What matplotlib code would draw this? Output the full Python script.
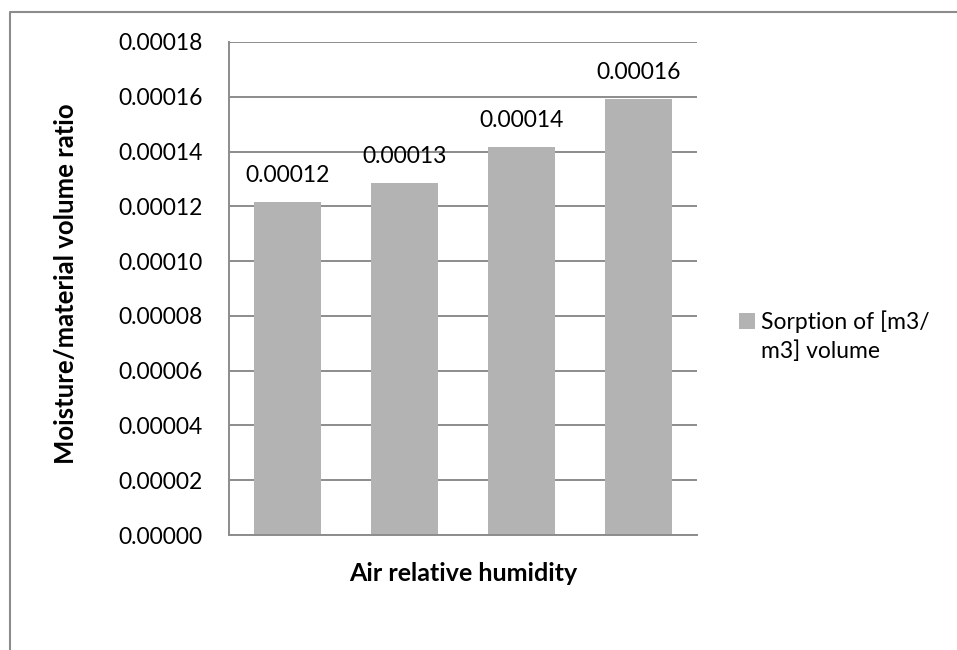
import matplotlib
matplotlib.use("Agg")
import matplotlib.pyplot as plt
from matplotlib.patches import Patch
from matplotlib.lines import Line2D

# sorption values per humidity step (m3/m3)
categories = ["RH1", "RH2", "RH3", "RH4"]
sorption = [0.0001216, 0.0001285, 0.0001416, 0.0001592]
yticks = [0.0, 0.00002, 0.00004, 0.00006, 0.00008, 0.00010,
          0.00012, 0.00014, 0.00016, 0.00018]

bar_color = "#b3b3b3"
grid_color = "#8c8c8c"

plt.rcParams["font.family"] = ["Lato", "DejaVu Sans"]
fs = 16.5
fs_bold = 18

fig = plt.figure(figsize=(9.57, 6.5), dpi=100)
ax = fig.add_axes([0.2393, 0.1769, 0.4890, 0.7585])

x = range(len(categories))
bars = ax.bar(x, sorption, width=0.57, color=bar_color, zorder=2)

for rect, val in zip(bars, sorption):
    ax.annotate(f"{val:.5f}", (rect.get_x() + rect.get_width() / 2, val),
                xytext=(0, 11.5), textcoords="offset points",
                ha="center", va="bottom", fontsize=fs)

ax.set_xlim(-0.5, len(categories) - 0.5)
ax.set_ylim(0, 0.00018)
ax.set_yticks(yticks)
ax.set_yticklabels([f"{t:.5f}" for t in yticks], fontsize=fs)
ax.set_xticks([])
ax.tick_params(axis="y", length=0, pad=19)
ax.yaxis.grid(True, color=grid_color, linewidth=1.4, zorder=1)
ax.set_axisbelow(True)

for side in ("top", "right"):
    ax.spines[side].set_visible(False)
for side in ("left", "bottom"):
    ax.spines[side].set_color(grid_color)
    ax.spines[side].set_linewidth(1.4)

ax.set_xlabel("Air relative humidity", fontsize=fs_bold, fontweight="bold")
ax.xaxis.set_label_coords(0.5, -0.055)
ax.set_ylabel("Moisture/material volume ratio", fontsize=18.5, fontweight="bold")
ax.yaxis.set_label_coords(-0.348, 0.51)
ax.yaxis.label.set_va("center")

leg = fig.legend(handles=[Patch(facecolor=bar_color, label="Sorption of [m3/")],
                 loc="upper left", bbox_to_anchor=(739 / 957, 1 - 310 / 650),
                 frameon=False, fontsize=fs, borderpad=0, borderaxespad=0,
                 handlelength=0.7, handleheight=0.7, handletextpad=0.26)
fig.canvas.draw()
tb = leg.get_texts()[0].get_window_extent()
fig.text(tb.x0 / fig.bbox.width, (tb.y0 - 29) / fig.bbox.height,
         "m3] volume", fontsize=fs, ha="left", va="bottom")

# chart area border (runs off the right and bottom edges)
fig.add_artist(Line2D([10 / 957, 10 / 957, 1.05], [-0.05, 1 - 12 / 650, 1 - 12 / 650],
                      transform=fig.transFigure, color="#8c8c8c", linewidth=1.5))

fig.savefig("out.png", dpi=100)
